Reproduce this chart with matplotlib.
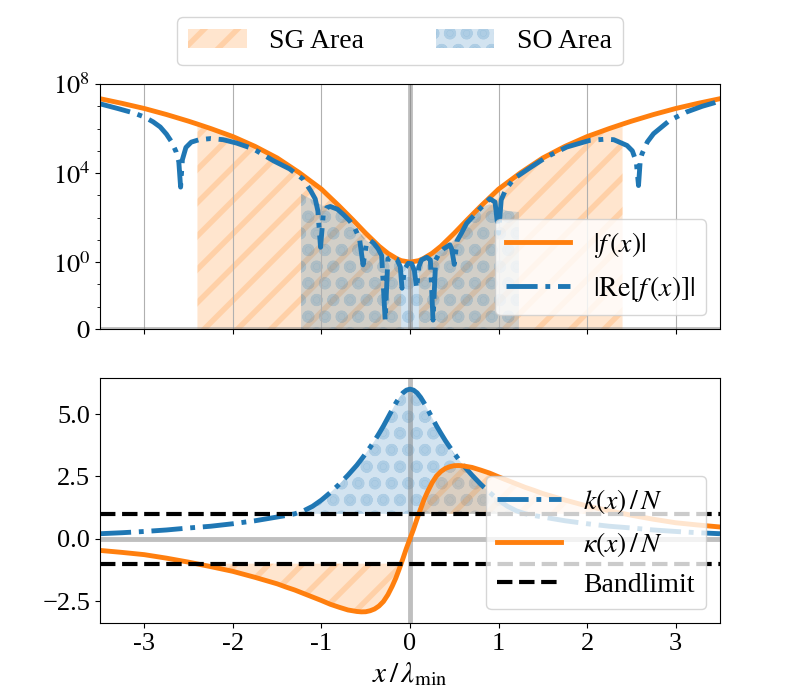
import numpy as np
import matplotlib
matplotlib.use("Agg")
import matplotlib.pyplot as plt
from matplotlib.ticker import FixedLocator

plt.rcParams['font.family'] = 'serif'
plt.rcParams['font.serif'] = ['Liberation Serif', 'DejaVu Serif']
plt.rcParams['mathtext.fontset'] = 'stix'
plt.rcParams['font.size'] = 19
plt.rcParams['hatch.linewidth'] = 4.0

# ---- top panel data (log10 of magnitude) ----
x_abs = [-3.5, -3.25, -3.0, -2.75, -2.5, -2.4, -2.25, -2.0, -1.75, -1.5, -1.25, -1.0, -0.8,
         -0.65, -0.5, -0.35, -0.25, -0.15, -0.1, 0.0, 0.1, 0.15, 0.25, 0.35, 0.5, 0.65, 0.8,
         1.0, 1.25, 1.5, 1.75, 2.0, 2.25, 2.4, 2.5, 2.75, 3.0, 3.25, 3.5]
log_abs = [7.34, 7.13, 6.9, 6.63, 6.33, 6.2, 6.0, 5.64, 5.2, 4.68, 4.02, 3.28, 2.52,
           1.92, 1.3, 0.72, 0.40, 0.16, 0.07, 0.0, 0.07, 0.16, 0.40, 0.72, 1.3, 1.92, 2.52,
           3.28, 4.02, 4.68, 5.2, 5.64, 6.0, 6.2, 6.33, 6.63, 6.9, 7.13, 7.34]

x_re = [-3.5, -3.3, -3.12, -3.0, -2.9, -2.82, -2.75, -2.69, -2.64, -2.61,
        -2.59, -2.57, -2.53, -2.47, -2.38, -2.25, -2.11, -1.96, -1.77, -1.54,
        -1.36, -1.21, -1.12, -1.07, -1.04, -1.01, -0.98, -0.94, -0.9, -0.82,
        -0.75, -0.68, -0.62, -0.57, -0.53, -0.49, -0.45, -0.41, -0.36, -0.32,
        -0.28, -0.25, -0.2, -0.15, -0.11, -0.09, -0.06, -0.02, 0.02, 0.05,
        0.075, 0.1, 0.13, 0.19, 0.23, 0.26, 0.29, 0.33, 0.38, 0.45,
        0.47, 0.5, 0.53, 0.58, 0.64, 0.75, 0.79, 0.9, 0.96, 1.0,
        1.03, 1.08, 1.17, 1.34, 1.54, 1.77, 2.03, 2.2, 2.3, 2.45,
        2.51, 2.555, 2.58, 2.6, 2.62, 2.68, 2.75, 2.93, 3.12, 3.3,
        3.43, 3.5]
log_re = [7.11, 6.9, 6.7, 6.52, 6.3, 6.07, 5.75, 5.39, 4.95, 4.5,
          3.37, 4.6, 5.15, 5.39, 5.5, 5.55, 5.5, 5.35, 5.09, 4.55,
          4.19, 3.74, 3.2, 2.84, 2.3, 0.67, 2.1, 2.45, 2.5, 2.38,
          2.13, 1.85, 1.5, 1.05, -0.12, 0.85, 0.98, 0.85, 0.6, 0.3,
          -2.4, 0.15, 0.25, 0.15, -0.2, -1.17, -0.3, -0.05, -0.07, -0.4,
          -1.17, -0.2, 0.1, 0.22, 0.1, -2.4, 0.1, 0.4, 0.6, 0.78,
          0.6, -0.1, 0.95, 1.3, 1.75, 2.22, 2.4, 2.85, 2.7, 1.3,
          2.8, 3.25, 3.74, 4.2, 4.72, 5.17, 5.47, 5.52, 5.5, 5.24,
          5.0, 4.5, 3.44, 4.6, 4.87, 5.4, 5.77, 6.36, 6.74, 7.0,
          7.15, 7.26]

# upper edge of the SO shading in the top panel
so_x = [-1.23, -1.1, -1.0, -0.9, -0.8, -0.65, -0.5, -0.35, -0.2, -0.1, 0.0,
        0.1, 0.2, 0.35, 0.5, 0.65, 0.8, 0.9, 1.0, 1.1, 1.23]
so_top = [3.07, 2.8, 2.55, 2.5, 2.4, 1.75, 1.0, 0.55, 0.2, -0.2, -0.2,
          -0.2, 0.2, 0.55, 1.0, 1.8, 2.45, 2.6, 2.45, 2.3, 2.25]

sg_inner = 0.1   # |kappa/N| > 1 between these
sg_outer = 2.4

# ---- bottom panel data ----
x_k = [-3.5, -3.25, -3.0, -2.75, -2.5, -2.25, -2.0, -1.75, -1.5, -1.4, -1.3, -1.2, -1.1,
       -1.0, -0.9, -0.8, -0.7, -0.6, -0.55, -0.5, -0.45, -0.4, -0.35, -0.3, -0.25, -0.2,
       -0.16, -0.12, -0.08, -0.04, 0.0, 0.04, 0.08, 0.12, 0.16, 0.2, 0.25, 0.3, 0.35,
       0.4, 0.45, 0.5, 0.55, 0.6, 0.7, 0.8, 0.9, 1.0, 1.1, 1.2, 1.3, 1.4, 1.5, 1.75,
       2.0, 2.25, 2.5, 2.75, 3.0, 3.25, 3.5]
k_over_n = [0.2, 0.24, 0.29, 0.35, 0.43, 0.5, 0.6, 0.72, 0.87, 0.93, 1.0, 1.12, 1.3,
            1.55, 1.85, 2.18, 2.55, 2.95, 3.18, 3.42, 3.67, 3.93, 4.22, 4.52, 4.85, 5.18,
            5.44, 5.67, 5.85, 5.96, 6.0, 5.96, 5.85, 5.67, 5.44, 5.18, 4.85, 4.52, 4.22,
            3.93, 3.67, 3.42, 3.18, 2.95, 2.55, 2.18, 1.85, 1.55, 1.3, 1.12, 1.0, 0.93, 0.87, 0.72,
            0.6, 0.5, 0.43, 0.35, 0.29, 0.24, 0.2]
kappa_over_n = [-0.47, -0.55, -0.64, -0.78, -0.94, -1.12, -1.31, -1.55, -1.81, -1.94, -2.06, -2.2, -2.34,
                -2.48, -2.63, -2.75, -2.86, -2.92, -2.935, -2.93, -2.89, -2.82, -2.7, -2.52, -2.25, -1.9,
                -1.58, -1.2, -0.8, -0.38, 0.0, 0.38, 0.8, 1.2, 1.58, 1.9, 2.25, 2.52, 2.7,
                2.82, 2.89, 2.93, 2.935, 2.92, 2.86, 2.75, 2.63, 2.48, 2.34, 2.2, 2.06, 1.94, 1.81, 1.55,
                1.31, 1.12, 0.94, 0.78, 0.64, 0.55, 0.47]
bandlimit = 1.0

xticks = [-3, -2, -1, 0, 1, 2, 3]
xtick_labels = ['-3', '-2', '-1', '0', '1', '2', '3']

orange = 'tab:orange'
blue = 'tab:blue'

x_abs = np.array(x_abs)
abs_f = 10.0 ** np.array(log_abs)
x_re = np.array(x_re)
re_f = 10.0 ** np.array(log_re)
so_x = np.array(so_x)
so_y = 10.0 ** np.array(so_top)
x_k = np.array(x_k)
k_over_n = np.array(k_over_n)
kappa_over_n = np.array(kappa_over_n)

fig = plt.figure(figsize=(8, 7), dpi=100)
ax1 = fig.add_axes([0.125, 0.53, 0.775, 0.35])
ax2 = fig.add_axes([0.125, 0.11, 0.775, 0.35], sharex=ax1)

# top panel
sg_mask = (np.abs(x_abs) >= sg_inner) & (np.abs(x_abs) <= sg_outer)
sg = ax1.fill_between(x_abs, 0, abs_f, where=sg_mask, color=orange, alpha=0.2,
                      hatch='/', lw=0, label='SG Area')
so = ax1.fill_between(so_x, 0, so_y, color=blue, alpha=0.2, hatch='o', lw=0,
                      label='SO Area')
ax1.axvline(0, color='grey', alpha=0.5, lw=3.5)
ax1.axhline(0, color='grey', alpha=0.5, lw=3.5)
l_abs, = ax1.plot(x_abs, abs_f, color=orange, lw=3.5, label='$|f\\,(x)|$')
l_re, = ax1.plot(x_re, re_f, color=blue, lw=3.5, ls='-.', label='$|\\mathrm{Re}[f\\,(x)]|$')

ax1.set_yscale('symlog', linthresh=1e-2, linscale=0.9)
ax1.set_ylim(0, 1e8)
ax1.set_yticks([0, 1, 1e4, 1e8])
ax1.set_yticklabels(['$0$', '$10^0$', '$10^4$', '$10^8$'])
ax1.yaxis.set_minor_locator(FixedLocator([1e-2, 1e-1, 1e1, 1e2, 1e3, 1e5, 1e6, 1e7]))
ax1.grid(axis='x')
ax1.tick_params(labelbottom=False)
ax1.legend(handles=[l_abs, l_re], loc='lower right', handlelength=2.3, fontsize=20)

# bottom panel
ax2.fill_between(x_k, k_over_n, bandlimit, where=k_over_n >= bandlimit, interpolate=True,
                 color=blue, alpha=0.2, hatch='o', lw=0)
ax2.fill_between(x_k, kappa_over_n, -bandlimit, where=kappa_over_n <= -bandlimit,
                 interpolate=True, color=orange, alpha=0.2, hatch='/', lw=0)
ax2.fill_between(x_k, kappa_over_n, bandlimit, where=kappa_over_n >= bandlimit,
                 interpolate=True, color=orange, alpha=0.2, hatch='/', lw=0)
ax2.axvline(0, color='grey', alpha=0.5, lw=3.5)
ax2.axhline(0, color='grey', alpha=0.5, lw=3.5)
l_k, = ax2.plot(x_k, k_over_n, color=blue, lw=3.5, ls='-.', label='$k(x)\\,/\\,N$')
l_kap, = ax2.plot(x_k, kappa_over_n, color=orange, lw=3.5, label='$\\kappa(x)\\,/\\,N$')
l_b = ax2.axhline(bandlimit, color='black', ls='--', lw=3, label='Bandlimit')
ax2.axhline(-bandlimit, color='black', ls='--', lw=3)

ax2.set_xlim(-3.5, 3.5)
ax2.set_xticks(xticks)
ax2.set_xticklabels(xtick_labels)
ax2.set_yticks([-2.5, 0.0, 2.5, 5.0])
ax2.set_xlabel('$x\\,/\\,\\lambda_{\\min}$', fontsize=21)
ax2.legend(handles=[l_k, l_kap, l_b], loc='lower right', handlelength=2.3, fontsize=20)

fig.legend(handles=[sg, so], loc='upper center', bbox_to_anchor=(0.5, 0.995),
           ncol=2, columnspacing=2.6, handlelength=2.1, fontsize=20)

fig.savefig('out.png', dpi=100)
